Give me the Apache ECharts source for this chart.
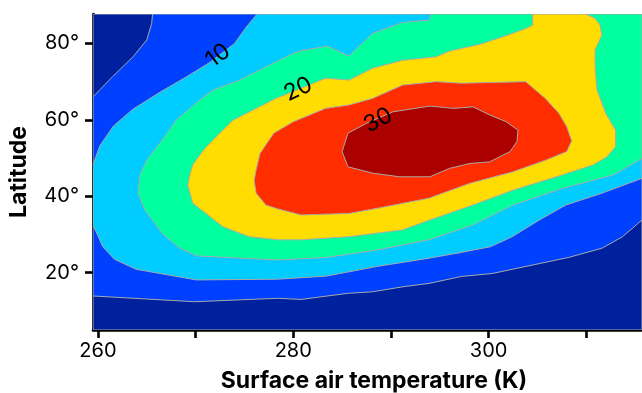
<!DOCTYPE html>
<html><head><meta charset="utf-8">
<script src="https://cdn.jsdelivr.net/npm/echarts@6/dist/echarts.min.js"></script>
<style>html,body{margin:0;padding:0;background:#fff}#c{width:642px;height:393px}</style>
</head><body><div id="c"></div>
<script>
// Axis ranges and ticks
const xMin = 259.5, xMax = 315.7;
const yMin = 5, yMax = 87.7;
const xTicks = [260, 270, 280, 290, 300, 310];
const xTickLabels = [260, 280, 300];
const yTicks = [20, 40, 60, 80];

// Contour levels
const levels = [0, 5, 10, 15, 20, 25, 30];

// Regions (temperature K, latitude deg) where density >= level
const region0 = [[259.5,5],[315.7,5],[315.7,87.7],[259.5,87.7]];
const region5 = [[259.5,13.9],[269.9,12.4],[278.4,13.3],[280.8,13.0],[285.6,14.6],[288.1,15.0],[291.2,16.3],[293.9,17.2],[297.2,19.0],[300.4,19.8],[308.2,24.0],[311.6,26.4],[313.7,29.4],[315.7,33.8],
  [315.7,87.7],[265.6,87.7],[265.5,85.2],[265.0,80.9],[263.6,76.5],[261.5,71.3],[259.5,66.0]];
const region10 = [[259.5,32.5],[260.5,26.8],[261.7,23.5],[263.9,20.9],[270.1,18.1],[278.4,18.3],[283.4,19.1],[288.5,21.6],[293.9,23.8],[297.2,25.3],[300.2,26.8],[302.4,29.4],[305.2,33.8],[307.9,37.7],[311.6,40.8],[315.7,44.7],
  [315.7,87.7],[276.3,87.7],[275.2,84.3],[274.0,80.0],[271.5,75.1],[269.1,71.3],[266.4,67.3],[263.6,62.8],[261.6,58.4],[260.2,53.2],[259.5,48.2]];
const region15 = [[294.1,87.7],[293.9,86.1],[291.2,85.5],[288.1,82.6],[285.7,76.7],[283.5,79.3],[280.8,78.1],[280.0,77.4],[276.9,73.5],[274.5,70.4],[271.8,67.8],[270.4,65.2],[268.0,59.9],[266.3,53.8],[265.0,49.5],[264.3,45.6],[264.1,40.8],[264.8,36.4],[266.7,29.9],[268.4,26.4],[270.1,24.4],[278.4,23.3],[283.4,24.0],[288.5,25.9],[294.0,28.7],[298.4,32.5],[302.5,37.7],[307.6,42.1],[312.8,45.6],[315.7,49.9],
  [315.7,87.7]];
const region20 = [[304.5,87.7],[304.5,84.8],[303.8,83.9],[301.4,81.7],[299.0,79.7],[297.2,78.7],[296.0,78.0],[294.6,76.5],[291.2,75.6],[288.1,73.5],[285.7,70.4],[283.3,70.9],[280.8,68.3],[278.2,65.6],[273.8,59.9],[272.1,55.6],[270.8,52.1],[269.7,48.2],[269.4,45.6],[269.2,42.9],[269.7,38.2],[270.8,36.0],[272.8,32.0],[275.5,29.4],[278.4,28.6],[280.8,28.6],[285.7,29.4],[291.2,31.2],[294.0,33.8],[298.4,37.7],[302.5,41.6],[307.6,45.6],[310.7,48.2],[312.1,50.3],[313.0,53.0],[313.0,57.3],[312.0,61.7],[311.1,67.8],[310.9,73.9],[310.9,78.3],[311.6,82.2],[311.4,84.8],[310.9,86.6],[309.9,87.7]];
const region25 = [[276.2,46.9],[276.0,44.2],[276.2,40.8],[277.2,37.7],[278.4,36.7],[280.8,35.1],[285.7,35.5],[288.5,36.8],[293.9,39.5],[298.1,43.4],[302.5,46.4],[305.9,49.5],[308.0,51.7],[308.5,54.5],[308.0,58.2],[307.2,61.7],[305.8,65.6],[303.8,70.0],[297.2,69.6],[294.6,70.0],[291.2,69.1],[288.1,65.6],[285.7,63.9],[283.3,63.0],[280.0,59.5],[278.0,56.5],[276.6,51.2]];
const region30 = [[285.6,56.5],[287.5,59.1],[290.2,62.1],[294.0,63.6],[296.4,63.0],[298.4,63.4],[300.1,61.3],[301.8,59.5],[303.0,57.3],[302.9,54.3],[302.2,51.7],[300.1,49.0],[298.1,48.6],[296.0,47.3],[294.0,45.1],[290.9,45.1],[288.2,46.0],[285.6,47.7],[285.0,51.7]];
const regions = [region0, region5, region10, region15, region20, region25, region30];

// Contour labels
const labelTexts = ['10', '20', '30'];
const labelPositions = [[272.3, 76.8], [280.5, 68.0], [288.7, 59.9]];
const labelAngles = [37, 25, 28];

const bandColors = ['#00219E', '#0040FF', '#00CCFF', '#00FF9F', '#FFDD00', '#FF2D00', '#AA0000'];
const FONT = 'Inter, "Liberation Sans", sans-serif';

const chart = echarts.init(document.getElementById('c'), null, {renderer: 'canvas'});
chart.setOption({
  animation: false,
  backgroundColor: '#fff',
  grid: {left: 93, right: 0, top: 14, bottom: 63, containLabel: false, outerBoundsMode: 'none'},
  xAxis: {
    type: 'value', min: xMin, max: xMax,
    name: 'Surface air temperature (K)', nameLocation: 'middle', nameGap: 40,
    nameTextStyle: {fontFamily: FONT, fontWeight: 'bold', fontSize: 23, color: '#000', padding: [0, 0, 0, 13]},
    axisLine: {show: true, onZero: false, lineStyle: {color: '#000', width: 2.6}},
    axisTick: {show: true, length: 8, customValues: xTicks, lineStyle: {color: '#000', width: 2.6}},
    axisLabel: {customValues: xTickLabels, margin: 11, fontFamily: FONT, fontSize: 20, color: '#000'},
    splitLine: {show: false}
  },
  yAxis: {
    type: 'value', min: yMin, max: yMax,
    name: 'Latitude', nameLocation: 'middle', nameGap: 62,
    nameTextStyle: {fontFamily: FONT, fontWeight: 'bold', fontSize: 23, color: '#000'},
    axisLine: {show: true, onZero: false, lineStyle: {color: '#000', width: 2.6}},
    axisTick: {show: true, length: 8, customValues: yTicks, lineStyle: {color: '#000', width: 2.6}},
    axisLabel: {customValues: yTicks, margin: 14, fontFamily: FONT, fontSize: 20, color: '#000', formatter: v => v + '°'},
    splitLine: {show: false}
  },
  series: [
    {
      type: 'custom', clip: true, z: 1,
      data: levels.map((lv, i) => [i, lv]),
      encode: {x: -1, y: -1},
      renderItem: (params, api) => {
        const i = params.dataIndex;
        const pts = regions[i].map(p => api.coord(p));
        return {type: 'polygon', shape: {points: pts}, style: {fill: bandColors[i], stroke: '#A9A9A9', lineWidth: 1}};
      }
    },
    {
      type: 'custom', clip: false, z: 3,
      data: labelTexts.map((t, i) => [i]),
      encode: {x: -1, y: -1},
      renderItem: (params, api) => {
        const i = params.dataIndex;
        const c = api.coord(labelPositions[i]);
        return {type: 'text', x: c[0], y: c[1], rotation: labelAngles[i] * Math.PI / 180,
          style: {text: labelTexts[i], fill: '#000', font: '23px ' + FONT, align: 'center', verticalAlign: 'middle'}};
      }
    }
  ]
});
</script></body></html>
